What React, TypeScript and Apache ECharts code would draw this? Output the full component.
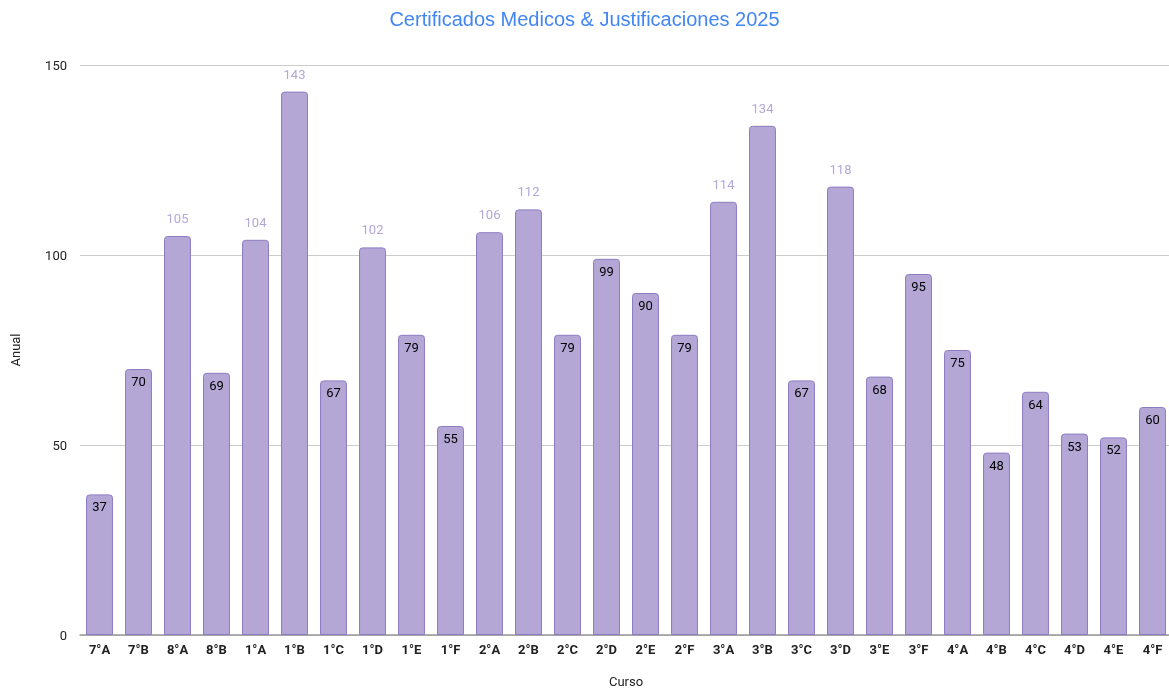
import React, { useEffect, useRef } from "react";
import * as echarts from "echarts";

const categories = ["7°A","7°B","8°A","8°B","1°A","1°B","1°C","1°D","1°E","1°F","2°A","2°B","2°C","2°D","2°E","2°F","3°A","3°B","3°C","3°D","3°E","3°F","4°A","4°B","4°C","4°D","4°E","4°F"];
const values = [37,70,105,69,104,143,67,102,79,55,106,112,79,99,90,79,114,134,67,118,68,95,75,48,64,53,52,60];
const yTicks = [0, 50, 100, 150];

export default function App() {
  const ref = useRef<HTMLDivElement>(null);
  useEffect(() => {
    const chart = echarts.init(ref.current!, null, { renderer: "svg" });
    const data = values.map((v) => ({
      value: v,
      label: v >= 100
        ? { show: true, position: "top", distance: 11, color: "#b4a7d6" }
        : { show: true, position: "insideTop", distance: 6, color: "#000" },
    }));
    chart.setOption({
      animation: false,
      title: {
        text: "Certificados Medicos & Justificaciones 2025",
        left: "center",
        top: 4,
        textStyle: { color: "#4285f4", fontSize: 20, fontWeight: "normal", fontFamily: "Liberation Sans, Arial, sans-serif" },
      },
      grid: { left: 80, right: -3, top: 65, bottom: 55, outerBoundsMode: "none", containLabel: false },
      xAxis: {
        type: "category",
        data: categories,
        name: "Curso",
        nameLocation: "middle",
        nameGap: 40,
        nameTextStyle: { color: "#222", fontSize: 13, fontFamily: "Roboto, sans-serif" },
        axisTick: { show: false },
        axisLine: { lineStyle: { color: "#999", width: 1.5 } },
        axisLabel: { color: "#222", fontWeight: "bold", fontSize: 13, margin: 8, interval: 0, fontFamily: "Roboto, sans-serif" },
      },
      yAxis: {
        type: "value",
        min: yTicks[0],
        max: yTicks[yTicks.length - 1],
        interval: 50,
        name: "Anual",
        nameLocation: "middle",
        nameGap: 58,
        nameTextStyle: { color: "#222", fontSize: 13, fontFamily: "Roboto, sans-serif" },
        axisLabel: { color: "#222", fontSize: 13, margin: 13, fontFamily: "Roboto, sans-serif" },
        splitLine: { lineStyle: { color: "#ccc" } },
      },
      series: [
        {
          type: "bar",
          data,
          barCategoryGap: "31%",
          itemStyle: { color: "#b4a7d6", borderColor: "#8e7cc3", borderWidth: 1, borderRadius: [3, 3, 0, 0] },
          label: { fontSize: 13, fontFamily: "Roboto, sans-serif" },
        },
      ],
    });
    return () => chart.dispose();
  }, []);
  return <div ref={ref} style={{ position: "fixed", left: 0, top: 0, width: 1169, height: 690 }} />;
}
